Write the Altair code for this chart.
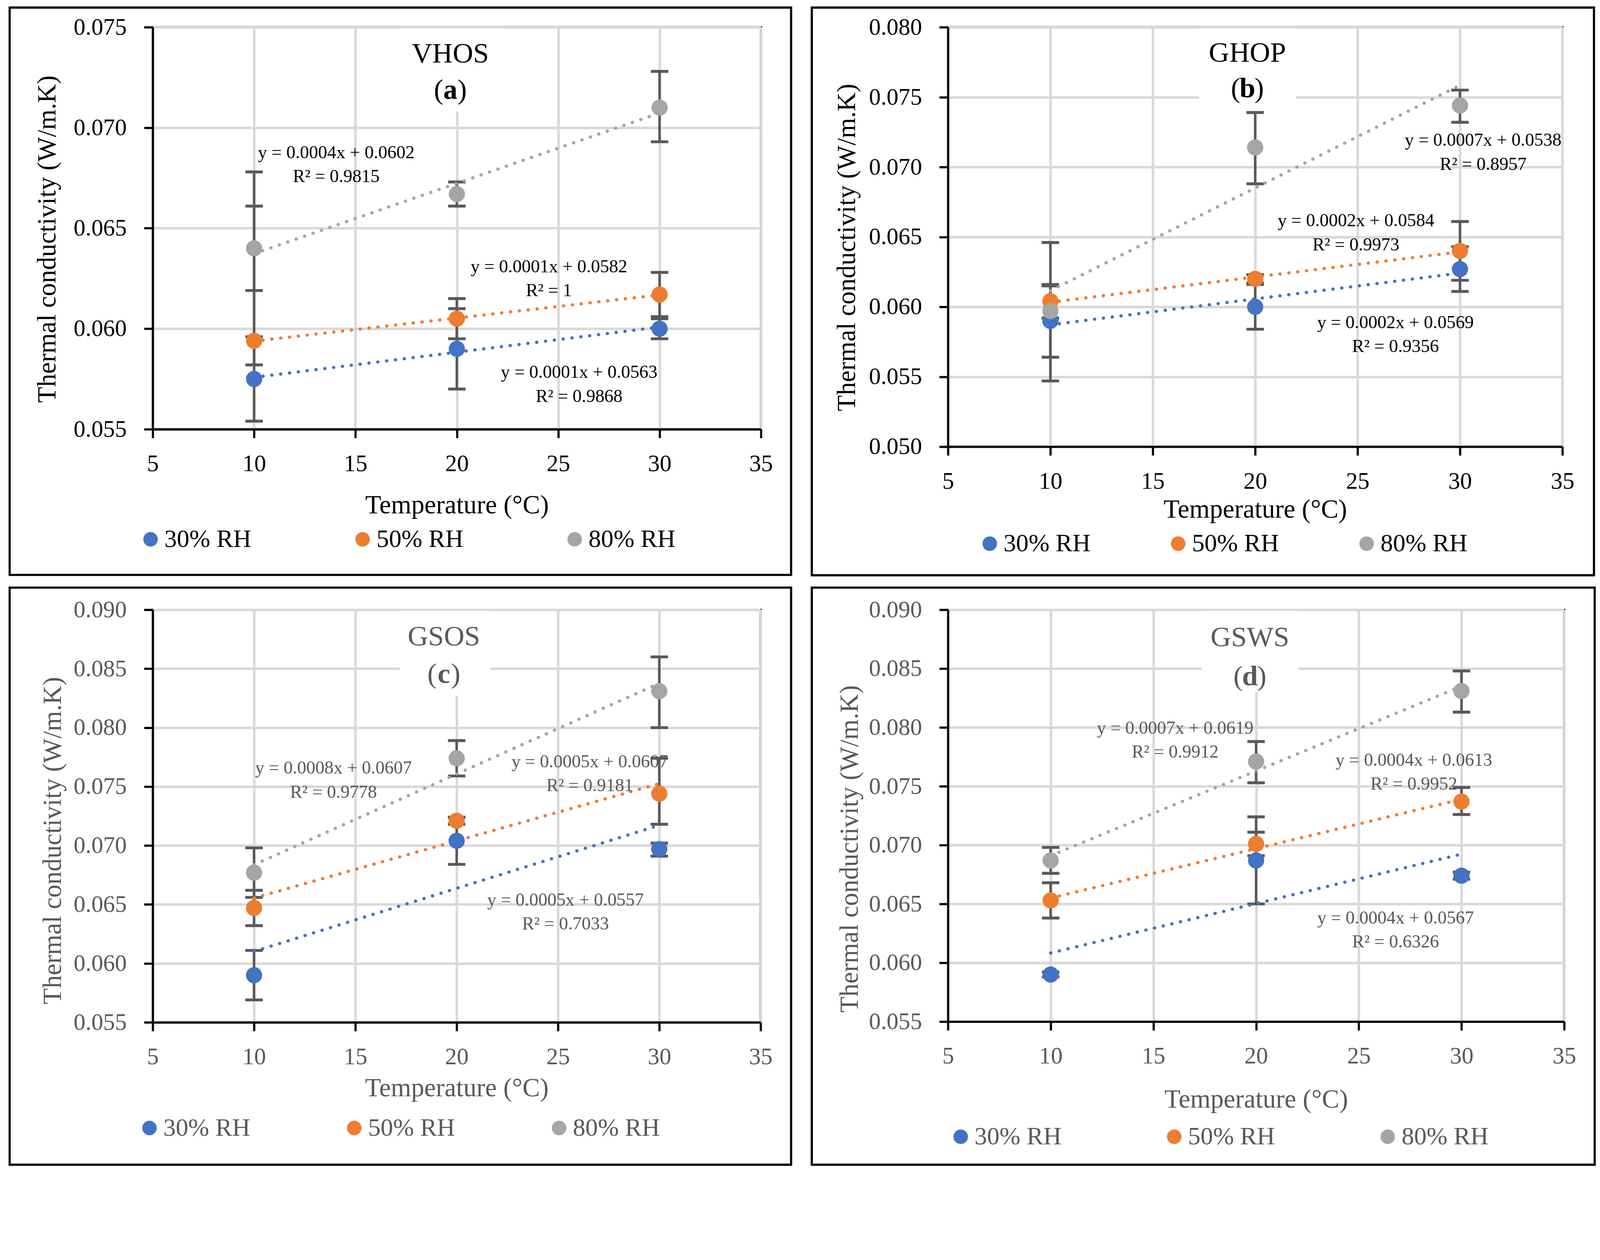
import altair as alt
import pandas as pd

FONT = "Liberation Serif"
TEMPS = [10, 20, 30]
SERIES = ["30% RH", "50% RH", "80% RH"]
SERIES_COLORS = ["#4472C4", "#ED7D31", "#A5A5A5"]
ERR_COLOR = "#595959"
GRID_COLOR = "#D9D9D9"
X_TICKS = [5, 10, 15, 20, 25, 30, 35]
X_DOMAIN = [5, 35]
X_TITLE = "Temperature (°C)"
Y_TITLE = "Thermal conductivity (W/m.K)"

# ---------- (a) VHOS ----------
VHOS_MEAN = [[0.0575, 0.0590, 0.0600], [0.0594, 0.0605, 0.0617], [0.0640, 0.0667, 0.0710]]
VHOS_LOW = [[0.0554, 0.0570, 0.0595], [0.0582, 0.0595, 0.0606], [0.0619, 0.0661, 0.0693]]
VHOS_HIGH = [[0.0596, 0.0610, 0.0605], [0.0678, 0.0615, 0.0628], [0.0661, 0.0673, 0.0728]]
VHOS_Y_TICKS = [0.055, 0.060, 0.065, 0.070, 0.075]
VHOS_EQ = ["y = 0.0001x + 0.0563\nR² = 0.9868", "y = 0.0001x + 0.0582\nR² = 1",
           "y = 0.0004x + 0.0602\nR² = 0.9815"]
VHOS_EQ_X = [26.03, 24.54, 14.05]
VHOS_EQ_Y = [0.05755, 0.06281, 0.06848]

# ---------- (b) GHOP ----------
GHOP_MEAN = [[0.0590, 0.0600, 0.0627], [0.0604, 0.0620, 0.0640], [0.0597, 0.0714, 0.0744]]
GHOP_LOW = [[0.0564, 0.0584, 0.0611], [0.0592, 0.0617, 0.0619], [0.0547, 0.0688, 0.0732]]
GHOP_HIGH = [[0.0615, 0.0616, 0.0643], [0.0616, 0.0623, 0.0661], [0.0646, 0.0739, 0.0755]]
GHOP_Y_TICKS = [0.050, 0.055, 0.060, 0.065, 0.070, 0.075, 0.080]
GHOP_EQ = ["y = 0.0002x + 0.0569\nR² = 0.9356", "y = 0.0002x + 0.0584\nR² = 0.9973",
           "y = 0.0007x + 0.0538\nR² = 0.8957"]
GHOP_EQ_X = [26.85, 24.92, 31.13]
GHOP_EQ_Y = [0.05847, 0.06576, 0.07151]

# ---------- (c) GSOS ----------
GSOS_MEAN = [[0.0590, 0.0704, 0.0697], [0.0647, 0.0721, 0.0744], [0.0677, 0.0774, 0.0831]]
GSOS_LOW = [[0.0569, 0.0684, 0.0691], [0.0632, 0.0718, 0.0718], [0.0656, 0.0759, 0.0800]]
GSOS_HIGH = [[0.0611, 0.0724, 0.0702], [0.0662, 0.0724, 0.0774], [0.0698, 0.0789, 0.0860]]
GSOS_Y_TICKS = [0.055, 0.060, 0.065, 0.070, 0.075, 0.080, 0.085, 0.090]
GSOS_EQ = ["y = 0.0005x + 0.0557\nR² = 0.7033", "y = 0.0005x + 0.0607\nR² = 0.9181",
           "y = 0.0008x + 0.0607\nR² = 0.9778"]
GSOS_EQ_X = [25.37, 26.57, 13.92]
GSOS_EQ_Y = [0.06491, 0.07664, 0.07609]

# ---------- (d) GSWS ----------
GSWS_MEAN = [[0.0590, 0.0687, 0.0674], [0.0653, 0.0701, 0.0737], [0.0687, 0.0771, 0.0831]]
GSWS_LOW = [[0.0588, 0.0650, 0.0671], [0.0638, 0.0691, 0.0726], [0.0676, 0.0753, 0.0813]]
GSWS_HIGH = [[0.0592, 0.0724, 0.0677], [0.0668, 0.0711, 0.0749], [0.0698, 0.0788, 0.0848]]
GSWS_Y_TICKS = [0.055, 0.060, 0.065, 0.070, 0.075, 0.080, 0.085, 0.090]
GSWS_EQ = ["y = 0.0004x + 0.0567\nR² = 0.6326", "y = 0.0004x + 0.0613\nR² = 0.9952",
           "y = 0.0007x + 0.0619\nR² = 0.9912"]
GSWS_EQ_X = [26.79, 27.68, 16.06]
GSWS_EQ_Y = [0.06334, 0.07675, 0.07947]

# layout (pixels, relative to each plot's top-left corner)
PANELS = [
    dict(name="VHOS", letter="a", mean=VHOS_MEAN, low=VHOS_LOW, high=VHOS_HIGH,
         ydom=[0.055, 0.075], yticks=VHOS_Y_TICKS, eq=VHOS_EQ, eq_x=VHOS_EQ_X, eq_y=VHOS_EQ_Y,
         txt="#000000", w=1675, h=1107, frame=(-394, 1758, -54, 1508),
         title_x=19.68, title_y=0.07325, paren_y=0.07144, box=(17.25, 22.1, 0.0708),
         xt_y=231, yt_x=-290, yt_y=583, leg=(-6, 1410, 584)),
    dict(name="GHOP", letter="b", mean=GHOP_MEAN, low=GHOP_LOW, high=GHOP_HIGH,
         ydom=[0.050, 0.080], yticks=GHOP_Y_TICKS, eq=GHOP_EQ, eq_x=GHOP_EQ_X, eq_y=GHOP_EQ_Y,
         txt="#000000", w=1692, h=1155, frame=(-375, 1779, -54, 1509),
         title_x=19.62, title_y=0.07752, paren_y=0.07498, box=(17.25, 22.0, 0.0740),
         xt_y=195, yt_x=-278, yt_y=606, leg=(115, 1422, 519)),
    dict(name="GSOS", letter="c", mean=GSOS_MEAN, low=GSOS_LOW, high=GSOS_HIGH,
         ydom=[0.055, 0.090], yticks=GSOS_Y_TICKS, eq=GSOS_EQ, eq_x=GSOS_EQ_X, eq_y=GSOS_EQ_Y,
         txt="#595959", w=1674, h=1136, frame=(-394, 1758, -61, 1528),
         title_x=19.37, title_y=0.08698, paren_y=0.08378, box=(17.19, 21.66, 0.0827),
         xt_y=203, yt_x=-275, yt_y=635, leg=(-9, 1427, 564)),
    dict(name="GSWS", letter="d", mean=GSWS_MEAN, low=GSWS_LOW, high=GSWS_HIGH,
         ydom=[0.055, 0.090], yticks=GSWS_Y_TICKS, eq=GSWS_EQ, eq_x=GSWS_EQ_X, eq_y=GSWS_EQ_Y,
         txt="#595959", w=1697, h=1134, frame=(-375, 1781, -61, 1528),
         title_x=19.70, title_y=0.08691, paren_y=0.08357, box=(17.36, 22.07, 0.0830),
         xt_y=236, yt_x=-271, yt_y=658, leg=(35, 1451, 588)),
]


def make_panel(p):
    txt = p["txt"]
    w, h = p["w"], p["h"]
    y0, y1 = p["ydom"]
    rows = []
    for s, label in enumerate(SERIES):
        for i, t in enumerate(TEMPS):
            rows.append(dict(rh=label, temp=t, value=p["mean"][s][i],
                             lo=p["low"][s][i], hi=p["high"][s][i]))
    df = pd.DataFrame(rows)

    xscale = alt.Scale(domain=X_DOMAIN, nice=False, zero=False)
    yscale = alt.Scale(domain=p["ydom"], nice=False, zero=False)
    cscale = alt.Scale(domain=SERIES, range=SERIES_COLORS)
    xaxis = alt.Axis(values=X_TICKS, format="d", title=X_TITLE, grid=True,
                     gridColor=GRID_COLOR, gridWidth=7, domainColor="black", domainWidth=6,
                     tickColor="black", tickWidth=6, tickSize=24, labelPadding=40,
                     labelFont=FONT, labelFontSize=65, labelColor=txt, labelFlush=False,
                     labelOverlap=False, titleFont=FONT, titleFontSize=72,
                     titleFontWeight="normal", titleColor=txt, titleY=p["xt_y"],
                     titleBaseline="alphabetic")
    yaxis = alt.Axis(values=p["yticks"], format=".3f", title=Y_TITLE, grid=True,
                     gridColor=GRID_COLOR, gridWidth=7, domainColor="black", domainWidth=6,
                     tickColor="black", tickWidth=6, tickSize=24, labelPadding=48,
                     labelFont=FONT, labelFontSize=65, labelColor=txt, labelFlush=False,
                     labelOverlap=False, titleFont=FONT, titleFontSize=72,
                     titleFontWeight="normal", titleColor=txt, titleX=p["yt_x"],
                     titleY=p["yt_y"], titleAngle=270, titleAlign="center",
                     titleBaseline="middle")

    def X(f):
        return alt.X(f"{f}:Q", scale=xscale, axis=xaxis)

    def Y(f):
        return alt.Y(f"{f}:Q", scale=yscale, axis=yaxis)

    bx0, bx1, by0 = p["box"]
    box = alt.Chart(pd.DataFrame({"bx0": [bx0], "bx1": [bx1], "by0": [by0]})).mark_rect(
        color="white").encode(x=X("bx0"), x2="bx1", y=Y("by0"), y2=alt.value(3))

    rules = alt.Chart(df).mark_rule(color=ERR_COLOR, strokeWidth=7).encode(
        x=X("temp"), y=Y("lo"), y2="hi")
    caps = alt.Chart(df).transform_fold(["lo", "hi"], as_=["bound", "bval"]).mark_tick(
        orient="horizontal", color=ERR_COLOR, size=48, thickness=8, opacity=1).encode(
        x=X("temp"), y=Y("bval"))

    trend = alt.Chart(df).transform_regression(
        "temp", "value", groupby=["rh"], extent=[10, 30]).mark_line(
        strokeWidth=9, strokeDash=[0.5, 24], strokeCap="round").encode(
        x=X("temp"), y=Y("value"),
        stroke=alt.Stroke("rh:N", scale=cscale, legend=None))

    points = alt.Chart(df).mark_circle(size=2000, opacity=1).encode(
        x=X("temp"), y=Y("value"), color=alt.Color("rh:N", scale=cscale, legend=None))

    # legend row (symbols + labels) placed through the panel's own scales
    lx, ly, lstep = p["leg"]
    xpp = (X_DOMAIN[1] - X_DOMAIN[0]) / w
    ypp = (y1 - y0) / h
    leg_df = pd.DataFrame({
        "rh": SERIES,
        "lgx": [X_DOMAIN[0] + (lx + k * lstep) * xpp for k in range(len(SERIES))],
        "lgy": [y1 - ly * ypp] * len(SERIES),
    })
    leg_sym = alt.Chart(leg_df).mark_circle(size=1600, opacity=1).encode(
        x=X("lgx"), y=Y("lgy"), color=alt.Color("rh:N", scale=cscale, legend=None))
    leg_txt = alt.Chart(leg_df).mark_text(font=FONT, fontSize=69, color=txt, align="left",
                                          baseline="middle", dx=38).encode(
        x=X("lgx"), y=Y("lgy"), text="rh:N")

    ann = alt.Chart(pd.DataFrame({"ax": p["eq_x"], "ay": p["eq_y"], "label": p["eq"]})).mark_text(
        font=FONT, fontSize=50, color=txt, align="center", baseline="alphabetic",
        lineBreak="\n", lineHeight=66).encode(x=X("ax"), y=Y("ay"), text="label:N")

    tdf = pd.DataFrame({"tx": [p["title_x"], p["title_x"]],
                        "ty": [p["title_y"], p["paren_y"]],
                        "label": [p["name"], "(\u2002)"]})
    titles = alt.Chart(tdf).mark_text(font=FONT, fontSize=78, color=txt, align="center",
                                      baseline="alphabetic").encode(
        x=X("tx"), y=Y("ty"), text="label:N")
    ldf = pd.DataFrame({"tx": [p["title_x"]], "ty": [p["paren_y"]], "label": [p["letter"]]})
    letter = alt.Chart(ldf).mark_text(font=FONT, fontSize=78, color=txt, align="center",
                                      baseline="alphabetic", fontWeight="bold").encode(
        x=X("tx"), y=Y("ty"), text="label:N")

    fx0, fx1, fy0, fy1 = p["frame"]
    frame = alt.Chart(pd.DataFrame({"k": [0]})).mark_rect(
        fillOpacity=0, stroke="black", strokeWidth=6).encode(
        x=alt.value(fx0), x2=alt.value(fx1), y=alt.value(fy0), y2=alt.value(fy1))

    return alt.layer(box, rules, caps, trend, points, leg_sym, leg_txt, ann, titles, letter,
                     frame).properties(width=w, height=h)


panels = [make_panel(p) for p in PANELS]

# the grid layout reserves ~115px of empty bounds above and below; trim most of it
chart = alt.concat(*panels, columns=2, spacing={"row": 22, "column": 45}).properties(
    padding={"left": 12, "top": -107, "right": 0, "bottom": -100}
).resolve_scale(
    color="independent", stroke="independent", x="independent", y="independent"
).configure(background="white", font=FONT).configure_view(stroke="black", strokeWidth=6)

chart.save("out.html", embed_options={"renderer": "svg", "actions": False})
